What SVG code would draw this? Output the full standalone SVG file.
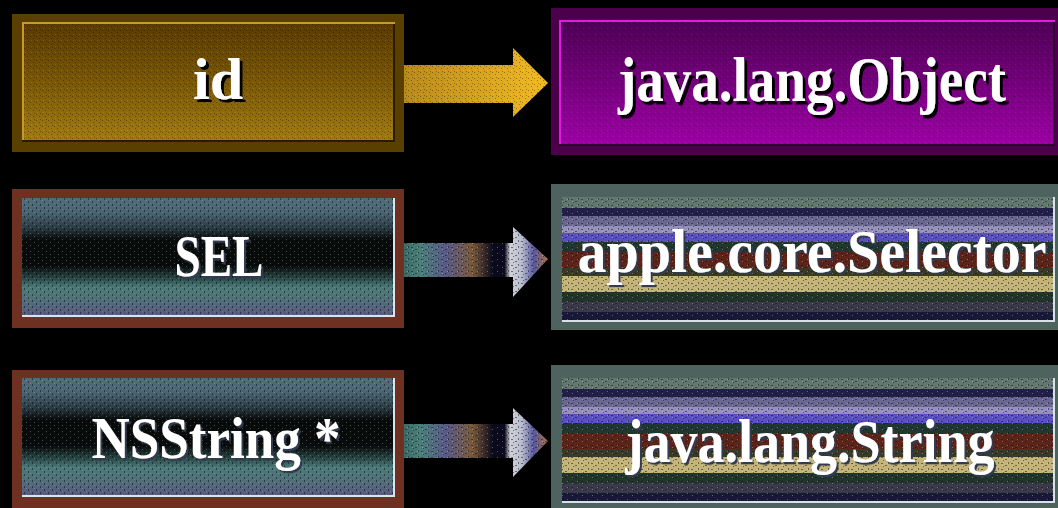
<svg xmlns="http://www.w3.org/2000/svg" width="1058" height="508" viewBox="0 0 1058 508">
  <style>
    .lbl { font-family: "Liberation Serif", "Times New Roman", serif; font-weight: bold; text-anchor: middle; fill: #ffffff; }
    .shBlack { filter: url(#fShadowBlack); }
    .shSoft { filter: url(#fShadowSoft); }
  </style>
  <defs>
    <filter id="fShadowBlack" x="-10%" y="-20%" width="120%" height="150%">
      <feDropShadow dx="3" dy="3" stdDeviation="0.3" flood-color="#000000" flood-opacity="1"/>
    </filter>
    <filter id="fShadowSoft" x="-10%" y="-20%" width="120%" height="150%">
      <feDropShadow dx="2" dy="2" stdDeviation="0.3" flood-color="#303a50" flood-opacity="1"/>
    </filter>
    <linearGradient id="gGold" x1="0" y1="0" x2="0" y2="1">
      <stop offset="0" stop-color="#5a3a00"/>
      <stop offset="0.5" stop-color="#7a5806"/>
      <stop offset="1" stop-color="#a27c12"/>
    </linearGradient>
    <linearGradient id="gPurple" x1="0" y1="0" x2="0" y2="1">
      <stop offset="0" stop-color="#4e0056"/>
      <stop offset="0.5" stop-color="#76007e"/>
      <stop offset="1" stop-color="#a000a8"/>
    </linearGradient>
    <linearGradient id="gArrowGold" x1="0" y1="0" x2="1" y2="0">
      <stop offset="0" stop-color="#b88a1c"/>
      <stop offset="1" stop-color="#f2ba22"/>
    </linearGradient>
    <linearGradient id="gSlate" x1="0" y1="0" x2="0" y2="1">
      <stop offset="0" stop-color="#506e7a"/>
      <stop offset="0.12" stop-color="#4a6472"/>
      <stop offset="0.25" stop-color="#2a3c44"/>
      <stop offset="0.35" stop-color="#0a0c0c"/>
      <stop offset="0.57" stop-color="#0a0c0c"/>
      <stop offset="0.68" stop-color="#2a4a48"/>
      <stop offset="0.75" stop-color="#4a7a78"/>
      <stop offset="0.82" stop-color="#4e7478"/>
      <stop offset="1" stop-color="#5a5880"/>
    </linearGradient>
    <linearGradient id="gBands" x1="0" y1="0" x2="0" y2="1">
      <stop offset="0" stop-color="#62786e"/>
      <stop offset="0.09" stop-color="#62786e"/>
      <stop offset="0.09" stop-color="#222048"/>
      <stop offset="0.15" stop-color="#222048"/>
      <stop offset="0.15" stop-color="#6a6890"/>
      <stop offset="0.23" stop-color="#6a6890"/>
      <stop offset="0.23" stop-color="#9890bc"/>
      <stop offset="0.29" stop-color="#9890bc"/>
      <stop offset="0.29" stop-color="#5a50c0"/>
      <stop offset="0.36" stop-color="#5a50c0"/>
      <stop offset="0.36" stop-color="#203830"/>
      <stop offset="0.44" stop-color="#203830"/>
      <stop offset="0.44" stop-color="#5e2418"/>
      <stop offset="0.57" stop-color="#5e2418"/>
      <stop offset="0.57" stop-color="#3a3a28"/>
      <stop offset="0.63" stop-color="#3a3a28"/>
      <stop offset="0.63" stop-color="#c4b478"/>
      <stop offset="0.76" stop-color="#c4b478"/>
      <stop offset="0.76" stop-color="#22352a"/>
      <stop offset="0.84" stop-color="#22352a"/>
      <stop offset="0.84" stop-color="#3a3a4a"/>
      <stop offset="0.92" stop-color="#3a3a4a"/>
      <stop offset="0.92" stop-color="#181838"/>
      <stop offset="1" stop-color="#181838"/>
    </linearGradient>
    <linearGradient id="gArrowMix" x1="0" y1="0" x2="1" y2="0">
      <stop offset="0" stop-color="#3a6a66"/>
      <stop offset="0.12" stop-color="#4a8078"/>
      <stop offset="0.3" stop-color="#5a5a88"/>
      <stop offset="0.48" stop-color="#7a5a38"/>
      <stop offset="0.62" stop-color="#0a0a1c"/>
      <stop offset="0.7" stop-color="#0a0a1c"/>
      <stop offset="0.74" stop-color="#d0d0d8"/>
      <stop offset="0.82" stop-color="#b8bccc"/>
      <stop offset="0.9" stop-color="#5858a0"/>
      <stop offset="1" stop-color="#a87040"/>
    </linearGradient>
    <pattern id="pDither" width="6" height="6" patternUnits="userSpaceOnUse">
      <rect x="0" y="0" width="1" height="1" fill="#000" opacity="0.35"/>
      <rect x="3" y="2" width="1" height="1" fill="#000" opacity="0.35"/>
      <rect x="1" y="4" width="1" height="1" fill="#fff" opacity="0.12"/>
      <rect x="4" y="5" width="1" height="1" fill="#000" opacity="0.3"/>
    </pattern>
    <pattern id="pSpeck" width="8" height="6" patternUnits="userSpaceOnUse">
      <rect x="0" y="0" width="1" height="2" fill="#000" opacity="0.45"/>
      <rect x="4" y="3" width="1" height="2" fill="#000" opacity="0.45"/>
      <rect x="2" y="2" width="1" height="1" fill="#a0c0c8" opacity="0.35"/>
      <rect x="6" y="5" width="1" height="1" fill="#a0c0c8" opacity="0.35"/>
    </pattern>
    <pattern id="pKnit" width="10" height="6" patternUnits="userSpaceOnUse">
      <path d="M1 1h2v1h-2zM5 3h2v1h-2zM3 4h1v1h-1zM8 0h1v2h-1z" fill="#101020" opacity="0.5"/>
      <path d="M2 3h1v1h-1zM7 1h1v1h-1z" fill="#e0e0f0" opacity="0.35"/>
    </pattern>
  </defs>

  <rect x="0" y="0" width="1058" height="508" fill="#000000"/>

  <g id="connectors">
    <polygon points="403,65 513,65 513,48 548,83 513,117 513,103 403,103" fill="url(#gArrowGold)"/>
    <polygon points="403,65 513,65 513,48 548,83 513,117 513,103 403,103" fill="url(#pDither)"/>
    <polygon points="403,243 513,243 513,227 548,259 513,297 513,277 403,277" fill="url(#gArrowMix)"/>
    <polygon points="403,243 513,243 513,227 548,259 513,297 513,277 403,277" fill="url(#pKnit)"/>
    <polygon points="403,424 513,424 513,408 548,441 513,477 513,458 403,458" fill="url(#gArrowMix)"/>
    <polygon points="403,424 513,424 513,408 548,441 513,477 513,458 403,458" fill="url(#pKnit)"/>
  </g>

  <g id="node-id">
    <rect x="12" y="14" width="392" height="138" fill="#5a4000"/>
    <rect x="22" y="22" width="373" height="120" fill="url(#gGold)"/>
    <rect x="22" y="22" width="373" height="120" fill="url(#pDither)"/>
    <path d="M22 23H395M23 22V142" stroke="#c89a28" stroke-width="2" fill="none"/>
    <path d="M22 141H395M394 24V142" stroke="#2a1a00" stroke-width="2" fill="none"/>
    <text class="lbl shBlack" x="218" y="99" font-size="60">id</text>
  </g>

  <g id="node-object">
    <rect x="551" y="8" width="507" height="147" fill="#4c004c"/>
    <rect x="559" y="20" width="496" height="126" fill="url(#gPurple)"/>
    <rect x="559" y="20" width="496" height="126" fill="url(#pDither)" opacity="0.6"/>
    <path d="M559 21H1055M560 20V146" stroke="#e418e4" stroke-width="2" fill="none"/>
    <path d="M559 145H1055M1054 22V146" stroke="#300030" stroke-width="2" fill="none"/>
    <text class="lbl shBlack" transform="translate(812,101) scale(1,1.16)" x="0" y="0" font-size="55">java.lang.Object</text>
  </g>

  <g id="node-sel">
    <rect x="12" y="189" width="392" height="139" fill="#6e3020"/>
    <rect x="22" y="198" width="373" height="119" fill="url(#gSlate)"/>
    <rect x="22" y="198" width="373" height="119" fill="url(#pSpeck)"/>
    <path d="M22 316H395M394 198V317" stroke="#d8e4ee" stroke-width="2" fill="none"/>
    <text class="lbl shSoft" transform="translate(219,276) scale(1,1.28)" x="0" y="0" font-size="47">SEL</text>
  </g>

  <g id="node-selector">
    <rect x="551" y="184" width="507" height="146" fill="#4e625e"/>
    <rect x="562" y="197" width="493" height="125" fill="url(#gBands)"/>
    <rect x="562" y="197" width="493" height="125" fill="url(#pKnit)"/>
    <path d="M562 321H1055M1054 197V322" stroke="#d8e0e8" stroke-width="2" fill="none"/>
    <text class="lbl shSoft" transform="translate(812,272) scale(1,1.07)" x="0" y="0" font-size="58">apple.core.Selector</text>
  </g>

  <g id="node-nsstring">
    <rect x="12" y="370" width="392" height="138" fill="#6e3020"/>
    <rect x="22" y="378" width="373" height="119" fill="url(#gSlate)"/>
    <rect x="22" y="378" width="373" height="119" fill="url(#pSpeck)"/>
    <path d="M22 496H395M394 378V497" stroke="#d8e4ee" stroke-width="2" fill="none"/>
    <text class="lbl shSoft" transform="translate(216,458) scale(1,1.13)" x="0" y="0" font-size="53">NSString *</text>
  </g>

  <g id="node-string">
    <rect x="551" y="365" width="507" height="143" fill="#4e625e"/>
    <rect x="562" y="378" width="493" height="125" fill="url(#gBands)"/>
    <rect x="562" y="378" width="493" height="125" fill="url(#pKnit)"/>
    <path d="M562 502H1055M1054 378V503" stroke="#d8e0e8" stroke-width="2" fill="none"/>
    <text class="lbl shSoft" transform="translate(810,462) scale(1,1.15)" x="0" y="0" font-size="54">java.lang.String</text>
  </g>
</svg>
